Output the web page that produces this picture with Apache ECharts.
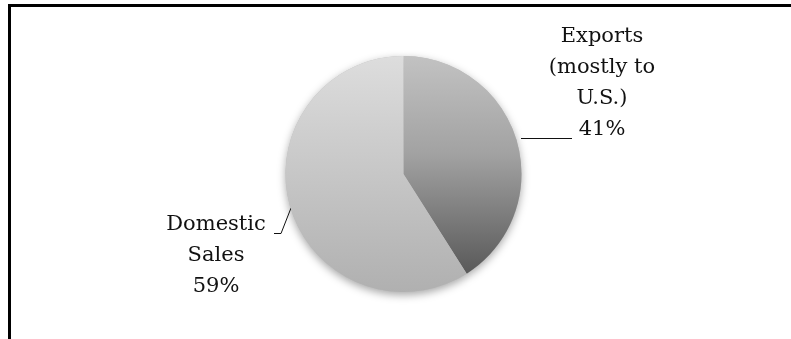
<!DOCTYPE html>
<html>
<head>
<meta charset="utf-8">
<script src="https://cdn.jsdelivr.net/npm/echarts@6/dist/echarts.min.js"></script>
<style>
  html, body { margin: 0; padding: 0; background: #fff; }
  #wrap { position: absolute; left: 0; top: 0; width: 791px; height: 339px; }
  #frame { position: absolute; left: 8px; top: 4px; right: 0; bottom: 0; border-top: 3px solid #000; border-left: 3px solid #000; }
  #chart { position: absolute; left: 0; top: 0; width: 791px; height: 339px; }
</style>
</head>
<body>
<div id="wrap">
  <div id="frame"></div>
  <div id="chart"></div>
</div>
<script>
const categories = ['Exports\n(mostly to\nU.S.)', 'Domestic\nSales'];
const values = [41, 59];

const sliceColors = [
  { type: 'linear', x: 0, y: 0, x2: 0, y2: 1, colorStops: [
    { offset: 0, color: '#c2c2c2' }, { offset: 0.45, color: '#a2a2a2' }, { offset: 1, color: '#595959' } ] },
  { type: 'linear', x: 0, y: 0, x2: 0, y2: 1, colorStops: [
    { offset: 0, color: '#dddddd' }, { offset: 1, color: '#b0b0b0' } ] }
];

const labelSpots = [
  { x: 602, y: 83, line: [[521, 138.5], [572, 138.5]] },
  { x: 216, y: 256, line: [[291, 208], [281, 233.5], [274, 233.5]] }
];

const center = [403.5, 174];
const radius = 118;

const chart = echarts.init(document.getElementById('chart'), null, { renderer: 'canvas' });
chart.setOption({
  animation: false,
  backgroundColor: 'transparent',
  series: [{
    type: 'pie',
    silent: true,
    center: center,
    radius: radius,
    startAngle: 90,
    clockwise: true,
    z: 1,
    data: categories.map((c, i) => ({ name: c, value: values[i] })),
    itemStyle: {
      color: '#bbbbbb',
      shadowBlur: 9,
      shadowColor: 'rgba(0,0,0,0.35)',
      shadowOffsetY: 3
    },
    label: { show: false },
    labelLine: { show: false },
    emphasis: { disabled: true }
  }, {
    type: 'pie',
    center: center,
    radius: radius,
    startAngle: 90,
    clockwise: true,
    z: 2,
    data: categories.map((c, i) => ({ name: c, value: values[i], itemStyle: { color: sliceColors[i] } })),
    itemStyle: { borderWidth: 0 },
    label: {
      show: true,
      formatter: '{b}\n{d}%',
      fontFamily: 'DejaVu Serif',
      fontSize: 21,
      lineHeight: 31,
      color: '#111',
      align: 'center'
    },
    labelLine: {
      show: true,
      smooth: false,
      lineStyle: { color: '#111', width: 1 }
    },
    labelLayout: function (params) {
      const s = labelSpots[params.dataIndex];
      return {
        x: s.x, y: s.y, align: 'center', verticalAlign: 'middle',
        labelLinePoints: s.line
      };
    },
    emphasis: { disabled: true }
  }]
});
</script>
</body>
</html>
